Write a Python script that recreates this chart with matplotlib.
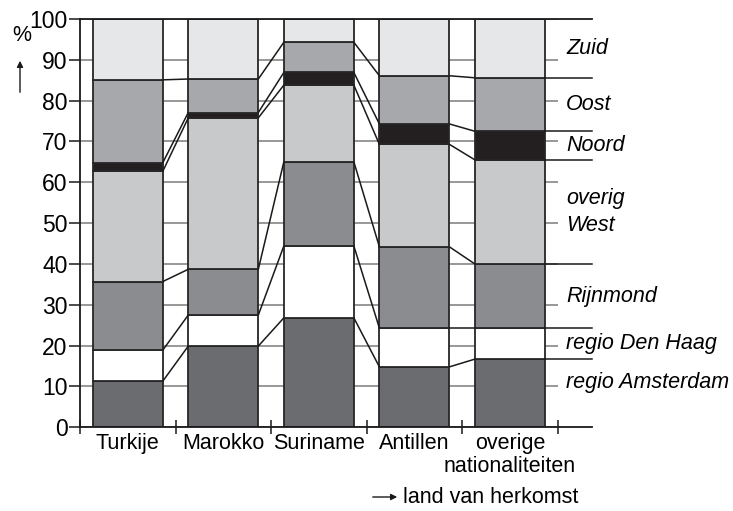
import numpy as np
import matplotlib
matplotlib.use("Agg")
import matplotlib.pyplot as plt

plt.rcParams["font.family"] = ["Liberation Sans", "DejaVu Sans"]

# land van herkomst
categories = ["Turkije", "Marokko", "Suriname", "Antillen", "overige\nnationaliteiten"]

# regio's (van onder naar boven)
regions = ["regio Amsterdam", "regio Den Haag", "Rijnmond", "overig\nWest", "Noord", "Oost", "Zuid"]
region_colors = ["#6b6c70", "#ffffff", "#8b8c90", "#c8c9cb", "#231f20", "#a7a8ab", "#e6e7e8"]

# percentages per land van herkomst
regio_amsterdam = [11.3, 19.9, 26.8, 14.8, 16.7]
regio_den_haag = [7.6, 7.6, 17.6, 9.5, 7.6]
rijnmond = [16.8, 11.2, 20.6, 19.9, 15.7]
overig_west = [27.0, 37.1, 18.8, 25.1, 25.5]
noord = [2.1, 1.3, 3.1, 5.0, 7.0]
oost = [20.3, 8.2, 7.4, 11.8, 13.1]
zuid = [14.9, 14.7, 5.7, 13.9, 14.4]

shares = np.array([regio_amsterdam, regio_den_haag, rijnmond, overig_west, noord, oost, zuid])
tops = np.cumsum(shares, axis=0)
bottoms = tops - shares

W, H = 733, 511
fig = plt.figure(figsize=(W / 100, H / 100), dpi=100)
fig.patch.set_facecolor("white")
ax = fig.add_axes([80 / W, (H - 427.3) / H, 477.7 / W, 408.3 / H])

x = np.arange(len(categories)) + 0.5
bw = 0.733
edge = "#262626"

for k in range(len(regions)):
    ax.bar(x, shares[k], bottom=bottoms[k], width=bw, color=region_colors[k],
           edgecolor=edge, linewidth=1.3, zorder=2)

# connecting lines between the bars
x_end = 5.36
for k in range(len(regions) - 1):
    for i in range(len(categories) - 1):
        ax.plot([x[i] + bw / 2, x[i + 1] - bw / 2], [tops[k, i], tops[k, i + 1]],
                color="#1a1a1a", lw=1.1, zorder=3, solid_capstyle="butt")
    ax.plot([x[-1] + bw / 2, x_end], [tops[k, -1], tops[k, -1]],
            color="#1a1a1a", lw=1.1, zorder=3, clip_on=False)

# top and bottom lines
for yv in (0, 100):
    ax.plot([0, x_end], [yv, yv], color="#1a1a1a", lw=1.3, zorder=4, clip_on=False)

ax.set_xlim(0, 5)
ax.set_ylim(0, 100)
ax.set_yticks(range(0, 101, 10))
ax.yaxis.grid(True, color="#7c7c7c", lw=1.1)
ax.set_axisbelow(True)
ax.tick_params(axis="y", direction="out", length=8, width=1.1, labelsize=16.5, pad=1, color="#1a1a1a")

ax.set_xticks(range(6))
ax.set_xticklabels([])
ax.tick_params(axis="x", which="major", direction="inout", length=10, width=1.1, color="#1a1a1a")
ax.set_xticks(x, minor=True)
ax.set_xticklabels(categories, minor=True, fontsize=15.5, linespacing=1.15)
ax.tick_params(axis="x", which="minor", length=0, pad=4)

for s in ("top", "right", "bottom"):
    ax.spines[s].set_visible(False)
ax.spines["left"].set_color("#1a1a1a")
ax.spines["left"].set_linewidth(1.3)

# region labels at the right
mids = (tops[:, -1] + bottoms[:, -1]) / 2
mids[0] += 2.5
for k, name in enumerate(regions):
    ax.text(5.09, mids[k], name, fontsize=15.5, style="italic", ha="left", va="center",
            linespacing=1.4, clip_on=False)

# axis annotations
ax.annotate("", xy=(20, H - 58), xytext=(20, H - 95), xycoords="figure pixels",
            textcoords="figure pixels",
            arrowprops=dict(arrowstyle="-|>", lw=1, color="#1a1a1a", mutation_scale=9))
fig.text(22 / W, 1 - 35 / H, "%", ha="center", va="center", fontsize=15.5)

ax.annotate("", xy=(400, H - 497), xytext=(370, H - 497), xycoords="figure pixels",
            textcoords="figure pixels",
            arrowprops=dict(arrowstyle="-|>", lw=1, color="#1a1a1a", mutation_scale=9))
fig.text(403 / W, 1 - 497 / H, "land van herkomst", ha="left", va="center", fontsize=15.5)

fig.savefig("out.png", dpi=100, facecolor="white")
